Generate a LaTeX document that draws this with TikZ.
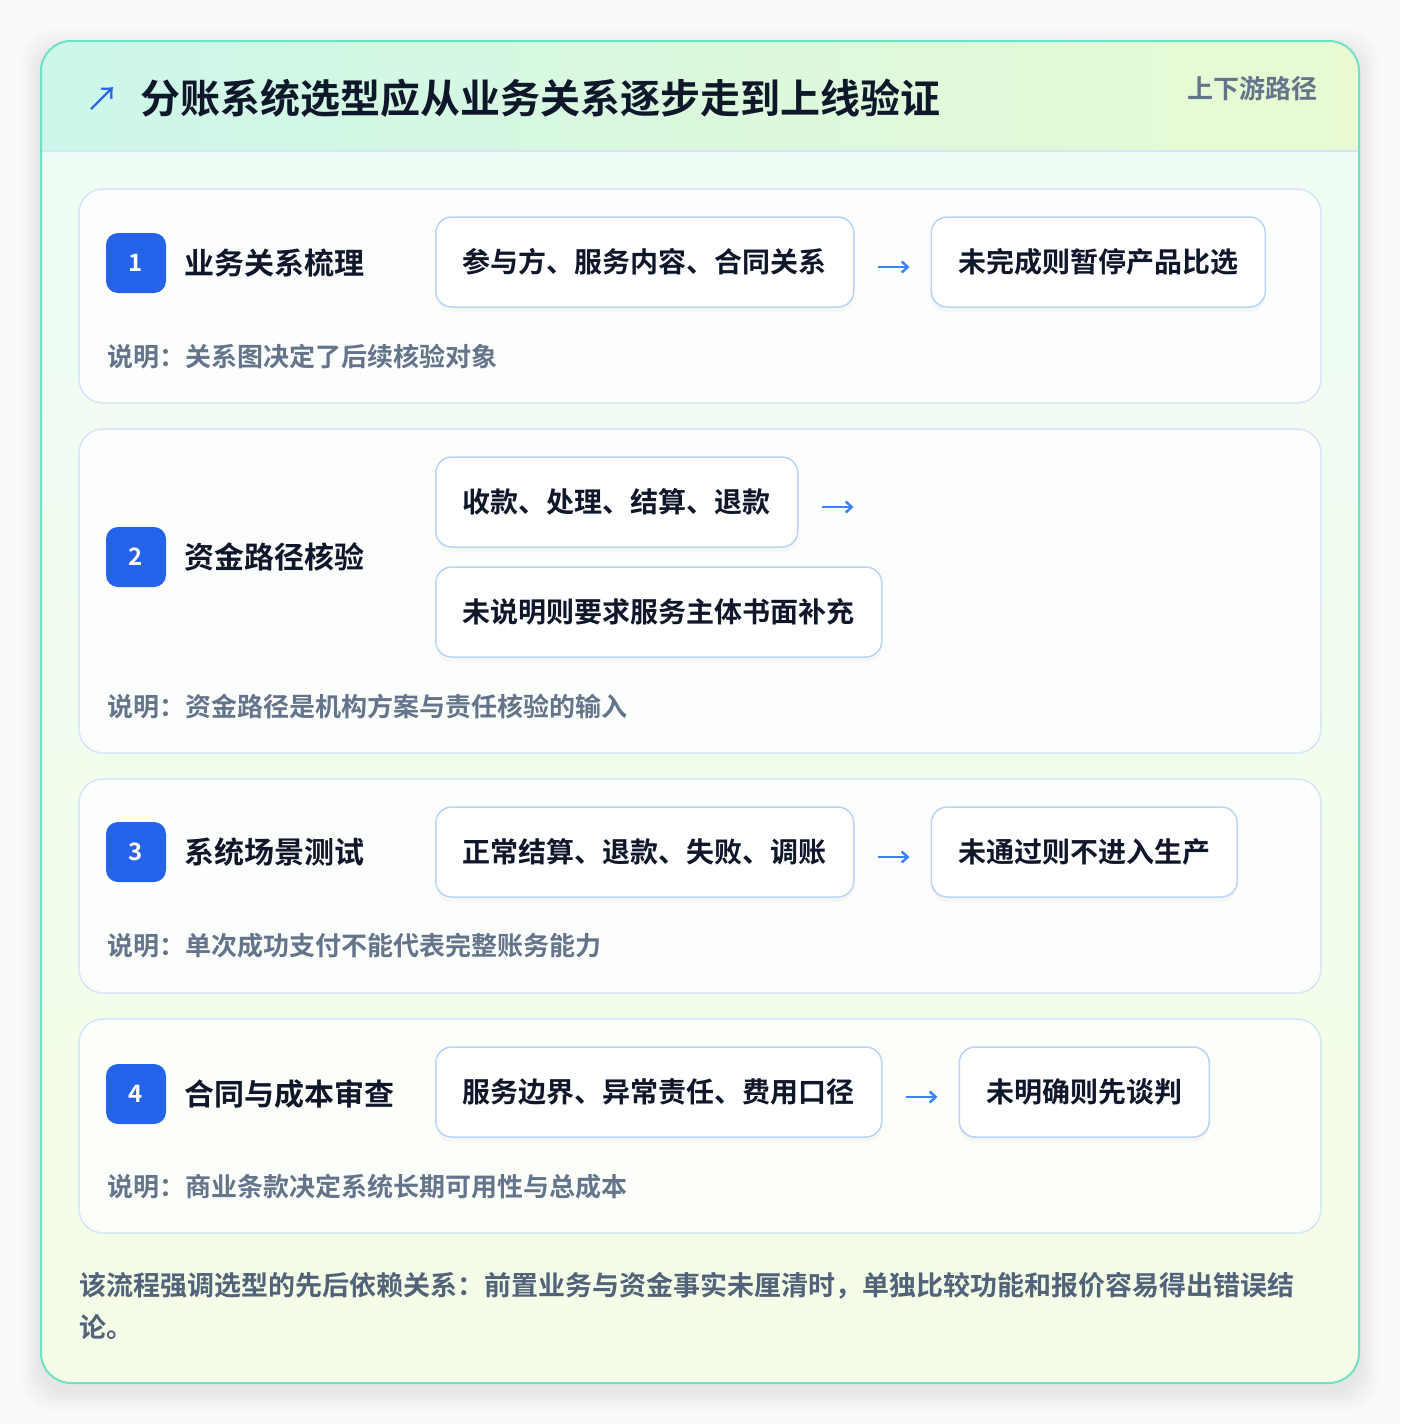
\documentclass[tikz,border=0pt]{standalone}
\usepackage{fontspec}
\setmainfont{Noto Sans CJK SC}[BoldFont={Noto Sans CJK SC Bold}]
\usetikzlibrary{positioning,arrows.meta,shadows}

\definecolor{ink}{HTML}{0F172A}
\definecolor{notegray}{HTML}{64748B}
\definecolor{footgray}{HTML}{52627A}
\definecolor{badgeblue}{HTML}{2563EB}
\definecolor{flowblue}{HTML}{3B82F6}
\definecolor{chipline}{HTML}{BBD3F5}
\definecolor{cardline}{HTML}{D6E5F7}
\definecolor{frameline}{HTML}{6EE2C8}
\definecolor{headl}{HTML}{CCF7EA}
\definecolor{headr}{HTML}{E9FAD2}
\definecolor{bodyt}{HTML}{EEFCF6}
\definecolor{bodyb}{HTML}{F4FDE6}
\definecolor{pagebg}{HTML}{FAFAFA}

\tikzstyle{card}=[draw=cardline,line width=1.5pt,rounded corners=24pt,fill=white,fill opacity=0.8,text opacity=1,minimum width=1242pt,inner sep=0pt]
\tikzstyle{badge}=[fill=badgeblue,rounded corners=12pt,minimum size=60pt,inner sep=0pt,text=white,font=\fontsize{24}{28}\selectfont\bfseries]
\tikzstyle{steptitle}=[inner sep=0pt,text=ink,font=\fontsize{30}{36}\selectfont\bfseries]
\tikzstyle{chip}=[draw=chipline,line width=1.5pt,fill=white,rounded corners=16pt,minimum height=90pt,inner xsep=27pt,inner ysep=0pt,text=ink,font=\fontsize{28}{34}\selectfont\bfseries,drop shadow={shadow xshift=0pt,shadow yshift=-5pt,opacity=0.03,fill=black}]
\tikzstyle{note}=[inner sep=0pt,text=notegray,font=\fontsize{26}{32}\selectfont\bfseries]
\tikzstyle{flow}=[-{Straight Barb[length=6pt,width=11pt]},flowblue,line width=2.4pt]

\begin{document}
\begin{tikzpicture}[x=1pt,y=-1pt]

\useasboundingbox[fill=pagebg] (0,0) rectangle (1400,1424);

% soft shadow of the frame
\foreach \s in {2,4,...,20}
  \fill[black,opacity=0.007,rounded corners=32pt] (41-\s,49-\s) rectangle (1359+\s,1391+\s);

% frame and header
\fill[top color=bodyt,bottom color=bodyb,rounded corners=30pt] (41,41) rectangle (1359,1383);
\begin{scope}
\clip[rounded corners=30pt] (41,41) rectangle (1359,1383);
\fill[left color=headl,right color=headr] (41,41) rectangle (1359,151);
\draw[cardline,line width=1.5pt] (41,151) -- (1359,151);
\end{scope}
\draw[frameline,line width=2pt,rounded corners=30pt] (41,41) rectangle (1359,1383);

\node[inner sep=0pt,text=badgeblue,font=\fontsize{34}{40}\selectfont] (icon) at (102,99) {↗};
\node[anchor=west,inner sep=0pt,text=ink,font=\fontsize{40}{48}\selectfont\bfseries] (title) at (140,98) {分账系统选型应从业务关系逐步走到上线验证};
\node[anchor=east,inner sep=0pt,text=notegray,font=\fontsize{26}{32}\selectfont\bfseries] (tag) at (1318,89) {上下游路径};

% Step 1
\node[card,minimum height=214pt] (k1) at (700,296) {};
\node[badge] (n1) at (136,263) {1};
\node[steptitle,right=18pt of n1] (t1) {业务关系梳理};
\node[chip,anchor=west] (a1) at (435,262) {参与方、服务内容、合同关系};
\node[chip,right=76pt of a1] (a2) {未完成则暂停产品比选};
\draw[flow,shorten <=23pt,shorten >=21pt] ([yshift=-5pt]a1.east) -- ([yshift=-5pt]a2.west);
\node[note,anchor=west] (d1) at (107,357) {说明：关系图决定了后续核验对象};

% Step 2
\node[card,minimum height=324pt] (k2) at (700,591) {};
\node[badge] (n2) at (136,557) {2};
\node[steptitle,right=18pt of n2] (t2) {资金路径核验};
\node[chip,anchor=west] (b1) at (435,502) {收款、处理、结算、退款};
\node[chip,anchor=west] (b2) at (435,612) {未说明则要求服务主体书面补充};
\coordinate[right=55pt of b1] (b3);
\draw[flow,shorten <=23pt] ([yshift=-5pt]b1.east) -- ([yshift=-5pt]b3);
\node[note,anchor=west] (d2) at (107,707) {说明：资金路径是机构方案与责任核验的输入};

% Step 3
\node[card,minimum height=214pt] (k3) at (700,886) {};
\node[badge] (n3) at (136,852) {3};
\node[steptitle,right=18pt of n3] (t3) {系统场景测试};
\node[chip,anchor=west] (c1) at (435,852) {正常结算、退款、失败、调账};
\node[chip,right=76pt of c1] (c2) {未通过则不进入生产};
\draw[flow,shorten <=23pt,shorten >=21pt] ([yshift=-5pt]c1.east) -- ([yshift=-5pt]c2.west);
\node[note,anchor=west] (d3) at (107,946) {说明：单次成功支付不能代表完整账务能力};

% Step 4
\node[card,minimum height=214pt] (k4) at (700,1126) {};
\node[badge] (n4) at (136,1094) {4};
\node[steptitle,right=18pt of n4] (t4) {合同与成本审查};
\node[chip,anchor=west] (e1) at (435,1092) {服务边界、异常责任、费用口径};
\node[chip,right=76pt of e1] (e2) {未明确则先谈判};
\draw[flow,shorten <=23pt,shorten >=21pt] ([yshift=-5pt]e1.east) -- ([yshift=-5pt]e2.west);
\node[note,anchor=west] (d4) at (107,1187) {说明：商业条款决定系统长期可用性与总成本};

% summary
\node[anchor=west,inner sep=0pt,align=left,text=footgray,font=\fontsize{27}{42}\selectfont\bfseries] (sum) at (79,1306) {该流程强调选型的先后依赖关系：前置业务与资金事实未厘清时，单独比较功能和报价容易得出错误结\\论。};

\end{tikzpicture}
\end{document}
